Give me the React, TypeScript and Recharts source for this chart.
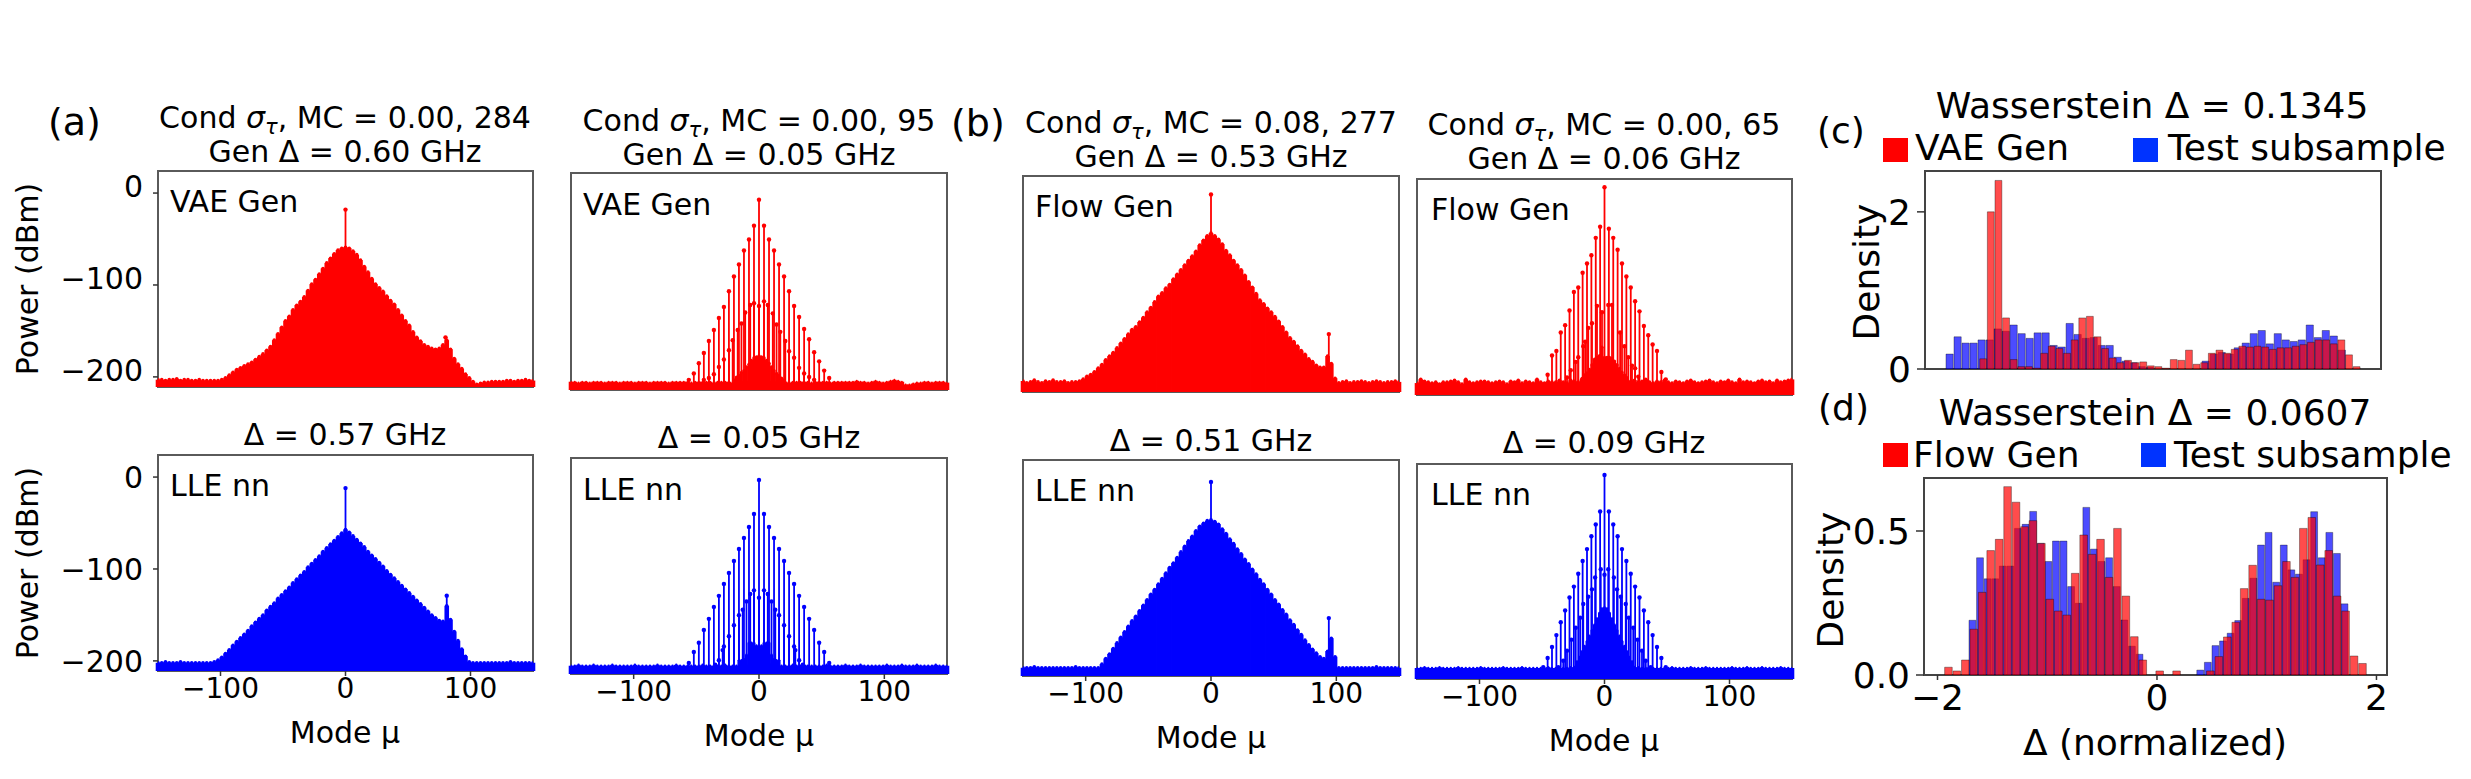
import React from "react";
import {
  Bar,
  ComposedChart,
  ErrorBar,
  ReferenceArea,
  Scatter,
  ScatterChart,
  XAxis,
  YAxis,
} from "recharts";

const FONT = "DejaVu Sans";
const RED = "#ff0000";
const BLUE = "#0000ff";
const BOTTOM = -211;

// every third mode, -150..150
const fillModes = Array.from({ length: 101 }, (_, i) => -150 + 3 * i);

const a1Fill = [
  -203, -203, -204, -203, -203, -202, -204, -203, -203, -204,
  -204, -203, -204, -204, -204, -204, -204, -203, -201, -198,
  -195, -192, -190, -188, -186, -184, -181, -178, -175, -171,
  -167, -160, -153, -146, -139, -134, -127, -122, -118, -113,
  -106, -99, -94, -88, -82, -76, -71, -66, -62, -60,
  -59, -60, -63, -67, -73, -80, -86, -93, -99, -103,
  -107, -112, -117, -121, -127, -133, -139, -144, -151, -157,
  -161, -165, -167, -169, -170, -169, -165, -160, -170, -180,
  -186, -191, -197, -201, -205, -208, -207, -206, -206, -205,
  -205, -205, -205, -204, -204, -205, -204, -204, -203, -204,
  -204,
];
const a1Spikes = { modes: [0, 80], power: [-18, -157] };

const b1Fill = [
  -199, -201, -200, -198, -200, -201, -199, -200, -198, -200,
  -200, -199, -201, -200, -200, -199, -197, -194, -192, -189,
  -185, -181, -176, -172, -168, -163, -158, -153, -148, -143,
  -140, -135, -130, -124, -119, -113, -107, -103, -98, -94,
  -88, -83, -78, -73, -68, -63, -58, -51, -46, -41,
  -38, -41, -45, -50, -57, -62, -68, -73, -78, -84,
  -91, -97, -104, -111, -115, -120, -124, -129, -134, -140,
  -146, -152, -156, -161, -166, -170, -175, -178, -182, -184,
  -184, -172, -180, -196, -201, -200, -199, -201, -200, -200,
  -199, -200, -201, -200, -199, -200, -201, -200, -200, -199,
  -200,
];
const b1Spikes = { modes: [0, 94], power: [4, -148] };

const a3Fill = [
  -202, -202, -201, -202, -202, -202, -201, -202, -202, -202,
  -202, -202, -202, -202, -202, -201, -199, -196, -192, -188,
  -183, -179, -175, -171, -167, -162, -158, -154, -150, -145,
  -141, -137, -132, -128, -124, -120, -115, -111, -107, -103,
  -98, -94, -90, -86, -81, -77, -73, -69, -65, -61,
  -57, -60, -64, -68, -72, -76, -81, -85, -89, -93,
  -97, -102, -106, -110, -114, -118, -122, -126, -130, -134,
  -138, -142, -146, -150, -153, -156, -157, -140, -155, -168,
  -178, -187, -195, -201, -202, -202, -202, -202, -202, -202,
  -202, -202, -202, -202, -201, -202, -202, -202, -202, -202,
  -202,
];
const a3Spikes = { modes: [0, 81], power: [-12, -129] };

const b3Fill = [
  -202, -202, -202, -201, -202, -202, -202, -202, -202, -202,
  -202, -202, -202, -202, -201, -202, -202, -202, -202, -202,
  -202, -198, -192, -187, -181, -175, -169, -163, -157, -151,
  -146, -140, -134, -128, -122, -117, -111, -105, -99, -93,
  -88, -82, -76, -70, -64, -59, -53, -48, -45, -42,
  -41, -43, -46, -51, -56, -62, -67, -73, -78, -84,
  -89, -95, -100, -106, -111, -117, -122, -128, -133, -139,
  -144, -150, -155, -161, -166, -172, -177, -182, -186, -190,
  -192, -184, -170, -190, -202, -202, -202, -202, -202, -202,
  -202, -202, -202, -202, -201, -202, -202, -202, -202, -202,
  -202,
];
const b3Spikes = { modes: [0, 94], power: [0, -148] };

const a2Floor = [
  -202, -202, -203, -202, -202, -203, -202, -202, -202, -203,
  -202, -202, -202, -203, -202, -202, -202, -203, -202, -202,
  -202, -203, -202, -202, -202, -202, -203, -202, -202, -202,
  -202, -202, -203, -202, -202, -202, -202, -202, -203, -202,
  -202, -202, -202, -203, -202, -202, -202, -202, -202, -203,
  -202, -202, -203, -202, -202, -202, -202, -202, -203, -202,
  -202, -202, -202, -202, -203, -202, -202, -202, -202, -203,
  -202, -202, -202, -202, -202, -202, -201, -202, -202, -203,
  -202, -201, -202, -203, -202, -201, -200, -201, -202, -205,
  -205, -204, -203, -203, -202, -202, -203, -202, -202, -202,
  -203,
];
const a4Floor = [
  -202, -202, -201, -202, -202, -202, -201, -202, -202, -202,
  -202, -201, -202, -202, -202, -202, -202, -201, -202, -202,
  -202, -202, -202, -201, -202, -202, -202, -202, -201, -202,
  -202, -202, -202, -202, -202, -201, -202, -202, -202, -202,
  -202, -201, -202, -202, -202, -202, -202, -202, -201, -202,
  -202, -202, -202, -201, -202, -202, -202, -202, -202, -201,
  -202, -202, -201, -202, -202, -202, -202, -202, -201, -202,
  -202, -202, -202, -201, -202, -202, -202, -201, -202, -202,
  -202, -202, -202, -202, -201, -202, -202, -202, -201, -202,
  -202, -202, -201, -202, -202, -202, -202, -201, -202, -202,
  -202,
];
const b2Floor = [
  -198, -194, -196, -197, -198, -197, -199, -197, -197, -196,
  -195, -197, -199, -194, -197, -198, -197, -196, -196, -197,
  -198, -197, -196, -197, -199, -196, -197, -195, -198, -196,
  -197, -198, -194, -197, -198, -196, -197, -197, -195, -197,
  -198, -195, -196, -197, -194, -197, -196, -197, -196, -195,
  -196, -196, -197, -196, -195, -197, -198, -196, -195, -197,
  -196, -194, -197, -198, -196, -197, -195, -197, -198, -196,
  -197, -198, -196, -195, -197, -198, -197, -196, -195, -197,
  -198, -196, -197, -195, -197, -198, -194, -197, -196, -197,
  -198, -196, -195, -197, -196, -198, -195, -197, -196, -195,
  -194,
];
const b4Floor = [
  -199, -199, -198, -199, -199, -199, -198, -199, -199, -199,
  -199, -198, -199, -199, -199, -199, -199, -198, -199, -199,
  -199, -199, -199, -198, -199, -199, -199, -199, -198, -199,
  -199, -199, -199, -199, -199, -198, -199, -199, -199, -199,
  -199, -198, -199, -199, -199, -199, -199, -199, -198, -199,
  -199, -199, -199, -198, -199, -199, -199, -199, -199, -198,
  -199, -199, -198, -199, -199, -199, -199, -199, -198, -199,
  -199, -199, -199, -198, -199, -199, -199, -198, -199, -199,
  -199, -199, -199, -199, -198, -199, -199, -199, -198, -199,
  -199, -199, -198, -199, -199, -199, -199, -198, -199, -199,
  -199,
];

const a2TallModes = [-56, -52, -48, -44, -40, -36, -32, -28, -24, -20, -16, -12, -8, -4, 0, 4, 8, 12, 16, 20, 24, 28, 32, 36, 40, 44, 48, 52, 56];
const a2TallPower = [-200, -193, -182, -171, -158, -146, -133, -121, -104, -88, -75, -60, -48, -33, -5, -33, -48, -60, -75, -88, -104, -120, -132, -145, -156, -170, -180, -190, -198];
const a2MidModes = [-44, -40, -36, -32, -28, -24, -21, -17, -14, -11, -7, -4, 0, 4, 7, 11, 14, 17, 21, 24, 28, 32, 36, 40, 44];
const a2MidPower = [-200, -198, -194, -186, -178, -168, -157, -146, -139, -127, -119, -117, -120, -115, -119, -128, -140, -148, -158, -169, -176, -187, -193, -197, -200];
const a2LowModes = [-20, -18, -16, -14, -12, -10, -8, -6, -4, -2, 0, 2, 4, 6, 8, 10, 12, 14, 16, 18, 20];
const a2LowPower = [-200, -197, -195, -192, -190, -186, -183, -179, -176, -175, -174, -175, -176, -179, -182, -186, -190, -193, -195, -198, -200];

const a4TallModes = a2TallModes;
const a4TallPower = [-199, -187, -177, -163, -151, -138, -126, -113, -101, -88, -75, -63, -51, -37, 0, -37, -51, -63, -75, -88, -101, -113, -126, -138, -151, -163, -177, -187, -199];
const a4MidModes = [-35, -32, -29, -28, -24, -20, -16, -13, -10, -7, -4, 0, 4, 7, 10, 13, 16, 20, 24, 28, 29, 32, 35];
const a4MidPower = [-201, -196, -185, -181, -170, -158, -147, -141, -132, -124, -120, -128, -120, -124, -132, -141, -147, -158, -170, -181, -185, -196, -201];
const a4LowModes = [-16, -14, -12, -10, -8, -6, -4, -2, 0, 2, 4, 6, 8, 10, 12, 14, 16];
const a4LowPower = [-196, -196, -195, -190, -177, -177, -177, -180, -181, -180, -177, -177, -177, -190, -195, -196, -196];

const b2TallModes = [-45.5, -42, -38.5, -35, -31.5, -28, -24.5, -21, -17.5, -14, -10.5, -7, -3.5, 0, 3.5, 7, 10.5, 14, 17.5, 21, 24.5, 28, 31.5, 35, 38.5, 42, 45.5, 49];
const b2TallPower = [-189, -168, -163, -143, -135, -119, -99, -94, -78, -68, -59, -40, -28, 15, -30, -40, -53, -68, -82, -94, -109, -120, -136, -146, -156, -163, -186, -194];
const b2MidModes = [-30, -27, -23, -21, -17, -15.5, -13, -10, -6, -2, 3, 6, 12.5, 16, 19, 22, 24.5, 27];
const b2MidPower = [-192, -184, -175, -170, -158, -153, -138, -133, -114, -121, -113, -113, -143, -158, -170, -179, -182, -191];
const b2LowModes = [-18, -16, -14, -12, -10, -8, -6, -4, -2, 0, 2, 4, 6, 8, 10, 12, 14, 16, 18];
const b2LowPower = [-193, -189, -187, -183, -178, -172, -170, -168, -159, -170, -170, -170, -171, -174, -178, -182, -186, -189, -192];

const b4TallModes = [-49, -45.5, -42, -38.5, -35, -31.5, -28, -24.5, -21, -17.5, -14, -10.5, -7, -3.5, 0, 3.5, 7, 10.5, 14, 17.5, 21, 24.5, 28, 31.5, 35, 38.5, 42, 45.5, 49];
const b4TallPower = [-198, -188, -176, -163, -149, -136, -122, -110, -96, -82, -69, -55, -42, -28, 12, -28, -42, -55, -69, -82, -96, -110, -122, -136, -149, -163, -176, -188, -198];
const b4MidModes = [-37, -33, -30, -26.5, -23, -19.5, -17, -13, -10, -7.5, -3, 0, 3, 7.5, 10, 13, 17, 19.5, 23, 26.5, 30, 33, 37];
const b4MidPower = [-198, -191, -180, -168, -155, -144, -129, -121, -113, -100, -91, -97, -91, -100, -113, -121, -129, -144, -155, -168, -180, -191, -198];
const b4LowModes = [-24, -22, -20, -18, -16, -14, -12, -10, -8, -6, -4, -2, 0, 2, 4, 6, 8, 10, 12, 14, 16, 18, 20, 22, 24];
const b4LowPower = [-198, -192, -187, -181, -175, -170, -164, -158, -152, -145, -139, -134, -133, -134, -139, -145, -152, -158, -164, -170, -175, -181, -187, -192, -198];

// histogram (c)
const cRedStart = -1.425;
const cRedWidth = 0.0657;
const cRed = [0.13, 2.0, 2.4, 0.65, 0.12, 0.03, 0.03, 0.01, 0.2, 0.29, 0.26, 0.2, 0.37, 0.65, 0.67, 0.41, 0.26, 0.14, 0.08, 0.11, 0.08, 0.09, 0.04, 0.03, 0.01, 0.12, 0.11, 0.24, 0.06, 0.08, 0.2, 0.24, 0.2, 0.25, 0.29, 0.28, 0.29, 0.28, 0.25, 0.27, 0.27, 0.29, 0.31, 0.34, 0.37, 0.37, 0.32, 0.37, 0.18, 0.03];
const cBlueStart = -1.716;
const cBlueWidth = 0.069;
const cBlue = [0.19, 0.41, 0.33, 0.33, 0.37, 0.37, 0.51, 0.48, 0.56, 0.45, 0.39, 0.46, 0.46, 0.3, 0.28, 0.58, 0.44, 0.39, 0.4, 0.3, 0.3, 0.15, 0.1, 0.08, 0.03, 0.02, 0, 0, 0, 0, 0, 0, 0.1, 0.19, 0.21, 0.19, 0.27, 0.33, 0.45, 0.49, 0.32, 0.45, 0.37, 0.35, 0.37, 0.56, 0.4, 0.49, 0.42, 0.24];

// histogram (d)
const dRedStart = -1.935;
const dRedWidth = 0.077;
const dRed = [0.027, 0.014, 0.052, 0.159, 0.287, 0.432, 0.471, 0.654, 0.6, 0.515, 0.536, 0.457, 0.263, 0.222, 0.208, 0.353, 0.486, 0.419, 0.471, 0.339, 0.509, 0.274, 0.133, 0.052, 0, 0.014, 0, 0.014, 0, 0, 0, 0.014, 0.064, 0.132, 0.183, 0.3, 0.381, 0.263, 0.26, 0.31, 0.394, 0.339, 0.509, 0.547, 0.382, 0.432, 0.274, 0.222, 0.066, 0.04];
const dBlueStart = -1.713;
const dBlueWidth = 0.0692;
const dBlue = [0.19, 0.407, 0.334, 0.334, 0.378, 0.378, 0.509, 0.523, 0.568, 0.457, 0.394, 0.465, 0.465, 0.307, 0.249, 0.582, 0.437, 0.394, 0.407, 0.307, 0.191, 0.1, 0.072, 0, 0, 0, 0, 0, 0, 0, 0.017, 0.044, 0.102, 0.118, 0.145, 0.189, 0.266, 0.336, 0.451, 0.495, 0.322, 0.451, 0.365, 0.35, 0.4, 0.567, 0.407, 0.495, 0.422, 0.247];

const zip = (modes: number[], power: number[]) => modes.map((m, i) => ({ m, p: power[i] }));

interface Layer {
  modes: number[];
  power: number[];
  width: number;
  r: number;
}

interface StemProps {
  left: number;
  top: number;
  width: number;
  height: number;
  color: string;
  layers: Layer[];
  showX?: boolean;
  yTicks?: "labels" | "marks" | "none";
  labelDy?: number;
}

function StemPanel({ left, top, width, height, color, layers, showX, yTicks = "none", labelDy = 0 }: StemProps) {
  const mL = 110;
  const mB = 50;
  const pad = 4;
  return (
    <div style={{ position: "absolute", left: left - mL, top: top - pad }}>
      <ScatterChart
        width={mL + width + pad}
        height={height + mB + pad}
        margin={{ top: pad, right: pad, bottom: 0, left: 0 }}
      >
        <XAxis
          type="number"
          dataKey="m"
          domain={[-150, 150]}
          ticks={showX ? [-100, 0, 100] : []}
          allowDataOverflow
          height={mB}
          axisLine={false}
          tickLine={showX ? { stroke: "#333", strokeWidth: 1.5 } : false}
          tickSize={5}
          tickMargin={2}
          tick={showX ? { fontSize: 28, fontFamily: FONT, fill: "#000" } : false}
          tickFormatter={(v: number) => String(v).replace("-", "\u2212")}
        />
        <YAxis
          type="number"
          dataKey="p"
          domain={[BOTTOM, 24]}
          ticks={yTicks === "none" ? [] : [0, -100, -200]}
          allowDataOverflow
          width={mL}
          axisLine={false}
          tickLine={yTicks === "none" ? false : { stroke: "#333", strokeWidth: 1.5 }}
          tickSize={5}
          tickMargin={10}
          tick={yTicks === "labels" ? { fontSize: 30, fontFamily: FONT, fill: "#000", dy: labelDy } : false}
          tickFormatter={(v: number) => String(v).replace("-", "\u2212")}
        />
        {layers.map((l, i) => (
          <Scatter
            key={i}
            data={zip(l.modes, l.power)}
            fill={color}
            isAnimationActive={false}
            shape={(s: any) => <circle cx={s.cx} cy={s.cy} r={l.r} fill={color} />}
          >
            <ErrorBar
              dataKey={(d: any) => [d.p - BOTTOM, 0]}
              direction="y"
              width={0}
              stroke={color}
              strokeWidth={l.width}
              isAnimationActive={false}
            />
          </Scatter>
        ))}
        <ReferenceArea x1={-150} x2={150} y1={BOTTOM} y2={24} fill="none" stroke="#5a5a5a" strokeWidth={2} ifOverflow="visible" />
      </ScatterChart>
    </div>
  );
}

interface HistProps {
  left: number;
  top: number;
  width: number;
  height: number;
  xDomain: [number, number];
  xTicks: number[];
  showX: boolean;
  yMax: number;
  yTicks: number[];
  yFormat: (v: number) => string;
  red: number[];
  redStart: number;
  redWidth: number;
  blue: number[];
  blueStart: number;
  blueWidth: number;
}

function HistPanel(props: HistProps) {
  const { left, top, width, height, xDomain, xTicks, showX, yMax, yTicks, yFormat } = props;
  const mL = 100;
  const mB = 60;
  const pad = 4;
  const span = xDomain[1] - xDomain[0];
  const rows = props.red.map((r, i) => ({
    xr: props.redStart + (i + 0.5) * props.redWidth,
    r,
    xb: props.blueStart + (i + 0.5) * props.blueWidth,
    b: props.blue[i],
  }));
  return (
    <div style={{ position: "absolute", left: left - mL, top: top - pad }}>
      <ComposedChart
        width={mL + width + pad}
        height={height + mB + pad}
        data={rows}
        margin={{ top: pad, right: pad, bottom: 0, left: 0 }}
      >
        <XAxis xAxisId="blue" type="number" dataKey="xb" domain={xDomain} allowDataOverflow hide height={0} />
        <XAxis
          xAxisId="red"
          type="number"
          dataKey="xr"
          domain={xDomain}
          ticks={xTicks}
          allowDataOverflow
          height={mB}
          axisLine={false}
          tickLine={{ stroke: "#333", strokeWidth: 1.5 }}
          tickSize={5}
          tickMargin={4}
          tick={showX ? { fontSize: 36, fontFamily: FONT, fill: "#000" } : false}
          tickFormatter={(v: number) => String(v).replace("-", "\u2212")}
        />
        <YAxis
          type="number"
          domain={[0, yMax]}
          ticks={yTicks}
          allowDataOverflow
          width={mL}
          axisLine={false}
          tickLine={{ stroke: "#333", strokeWidth: 1.5 }}
          tickSize={8}
          tickMargin={6}
          tick={{ fontSize: 36, fontFamily: FONT, fill: "#000" }}
          tickFormatter={yFormat}
        />
        <Bar
          xAxisId="blue"
          dataKey="b"
          fill="#0000ff"
          fillOpacity={0.7}
          stroke="#000"
          strokeOpacity={0.35}
          barSize={(props.blueWidth / span) * width}
          isAnimationActive={false}
        />
        <Bar
          xAxisId="red"
          dataKey="r"
          fill="#ff0000"
          fillOpacity={0.7}
          stroke="#000"
          strokeOpacity={0.35}
          barSize={(props.redWidth / span) * width}
          isAnimationActive={false}
        />
        <ReferenceArea
          xAxisId="red"
          x1={xDomain[0]}
          x2={xDomain[1]}
          y1={0}
          y2={yMax}
          fill="none"
          stroke="#444"
          strokeWidth={2}
          ifOverflow="visible"
        />
      </ComposedChart>
    </div>
  );
}

const fill = (power: number[]): Layer => ({ modes: fillModes, power, width: 4.6, r: 1.8 });
const stem = (modes: number[], power: number[], width = 1.8, r = 2.2): Layer => ({ modes, power, width, r });

function Title({ x, y, mc, count, gen }: { x: number; y: number; mc: string; count: string; gen: string }) {
  return (
    <g textAnchor="middle" fontSize={30} fontFamily={FONT} fill="#000">
      <text x={x} y={y}>
        Cond <tspan fontStyle="italic">σ</tspan>
        <tspan fontStyle="italic" fontSize={21} dy={6}>τ</tspan>
        <tspan dy={-6}>, MC = {mc}, {count}</tspan>
      </text>
      <text x={x} y={y + 34}>Gen Δ = {gen} GHz</text>
    </g>
  );
}

function T({ x, y, size = 30, anchor = "start", rotate, children }: any) {
  return (
    <text
      x={x}
      y={y}
      fontSize={size}
      fontFamily={FONT}
      fill="#000"
      textAnchor={anchor}
      transform={rotate ? `rotate(${rotate} ${x} ${y})` : undefined}
    >
      {children}
    </text>
  );
}

function Swatch({ x, y, color }: { x: number; y: number; color: string }) {
  return <rect x={x} y={y} width={25} height={24} fill={color} />;
}

export default function App() {
  return (
    <div style={{ position: "absolute", left: 0, top: 0, width: 2471, height: 779, background: "#fff", overflow: "hidden" }}>
      <StemPanel left={158} top={171} width={375} height={216} color={RED} yTicks="labels" labelDy={-7}
        layers={[fill(a1Fill), stem(a1Spikes.modes, a1Spikes.power)]} />
      <StemPanel left={571} top={173} width={376} height={217} color={RED}
        layers={[
          { modes: fillModes, power: a2Floor, width: 4.6, r: 1 },
          stem(a2TallModes, a2TallPower),
          stem(a2MidModes, a2MidPower),
          stem(a2LowModes, a2LowPower, 3, 1.6),
        ]} />
      <StemPanel left={1023} top={176} width={376} height={216} color={RED} yTicks="marks"
        layers={[fill(b1Fill), stem(b1Spikes.modes, b1Spikes.power)]} />
      <StemPanel left={1417} top={179} width={375} height={216} color={RED} yTicks="marks"
        layers={[
          fill(b2Floor),
          stem(b2TallModes, b2TallPower),
          stem(b2MidModes, b2MidPower),
          stem(b2LowModes, b2LowPower, 3, 1.6),
        ]} />

      <StemPanel left={158} top={455} width={375} height={216} color={BLUE} yTicks="labels" showX
        layers={[fill(a3Fill), stem(a3Spikes.modes, a3Spikes.power)]} />
      <StemPanel left={571} top={458} width={376} height={216} color={BLUE} showX
        layers={[
          { modes: fillModes, power: a4Floor, width: 4.6, r: 1.2 },
          stem(a4TallModes, a4TallPower),
          stem(a4MidModes, a4MidPower),
          stem(a4LowModes, a4LowPower, 3, 1.2),
        ]} />
      <StemPanel left={1023} top={460} width={376} height={216} color={BLUE} yTicks="marks" showX
        layers={[fill(b3Fill), stem(b3Spikes.modes, b3Spikes.power)]} />
      <StemPanel left={1417} top={464} width={375} height={215} color={BLUE} yTicks="marks" showX
        layers={[
          { modes: fillModes, power: b4Floor, width: 4.6, r: 1.2 },
          stem(b4TallModes, b4TallPower),
          stem(b4MidModes, b4MidPower),
          stem(b4LowModes, b4LowPower, 3, 1.4),
        ]} />

      <HistPanel left={1925} top={171} width={456} height={198} xDomain={[-1.897, 2.034]} xTicks={[-1, 0, 1, 2]} showX={false}
        yMax={2.52} yTicks={[0, 2]} yFormat={(v) => String(v)}
        red={cRed} redStart={cRedStart} redWidth={cRedWidth} blue={cBlue} blueStart={cBlueStart} blueWidth={cBlueWidth} />
      <HistPanel left={1924} top={478} width={463} height={197} xDomain={[-2.123, 2.096]} xTicks={[-2, 0, 2]} showX
        yMax={0.684} yTicks={[0, 0.5]} yFormat={(v) => v.toFixed(1)}
        red={dRed} redStart={dRedStart} redWidth={dRedWidth} blue={dBlue} blueStart={dBlueStart} blueWidth={dBlueWidth} />

      <svg width={2471} height={779} style={{ position: "absolute", left: 0, top: 0, pointerEvents: "none" }}>
        <T x={48} y={135} size={38}>(a)</T>
        <T x={951} y={136} size={38}>(b)</T>
        <T x={1817} y={143} size={36}>(c)</T>
        <T x={1818} y={420} size={36}>(d)</T>

        <Title x={345} y={128} mc="0.00" count="284" gen="0.60" />
        <Title x={759} y={131} mc="0.00" count="95" gen="0.05" />
        <Title x={1211} y={133} mc="0.08" count="277" gen="0.53" />
        <Title x={1604} y={135} mc="0.00" count="65" gen="0.06" />

        <T x={345} y={445} anchor="middle">Δ = 0.57 GHz</T>
        <T x={759} y={448} anchor="middle">Δ = 0.05 GHz</T>
        <T x={1211} y={451} anchor="middle">Δ = 0.51 GHz</T>
        <T x={1604} y={453} anchor="middle">Δ = 0.09 GHz</T>

        <T x={170} y={212}>VAE Gen</T>
        <T x={583} y={215}>VAE Gen</T>
        <T x={1035} y={217}>Flow Gen</T>
        <T x={1431} y={220}>Flow Gen</T>
        <T x={170} y={496}>LLE nn</T>
        <T x={583} y={500}>LLE nn</T>
        <T x={1035} y={501}>LLE nn</T>
        <T x={1431} y={505}>LLE nn</T>

        <T x={38} y={279} anchor="middle" rotate={-90}>Power (dBm)</T>
        <T x={38} y={563} anchor="middle" rotate={-90}>Power (dBm)</T>

        <T x={345} y={743} anchor="middle">Mode μ</T>
        <T x={759} y={746} anchor="middle">Mode μ</T>
        <T x={1211} y={748} anchor="middle">Mode μ</T>
        <T x={1604} y={751} anchor="middle">Mode μ</T>

        <T x={2152} y={118} size={36} anchor="middle">Wasserstein Δ = 0.1345</T>
        <Swatch x={1883} y={138} color="#ff0000" />
        <T x={1915} y={160} size={36}>VAE Gen</T>
        <Swatch x={2133} y={138} color="#0033ff" />
        <T x={2168} y={160} size={36}>Test subsample</T>
        <T x={1879} y={272} size={36} anchor="middle" rotate={-90}>Density</T>

        <T x={2155} y={425} size={36} anchor="middle">Wasserstein Δ = 0.0607</T>
        <Swatch x={1883} y={443} color="#ff0000" />
        <T x={1913} y={467} size={36}>Flow Gen</T>
        <Swatch x={2141} y={443} color="#0033ff" />
        <T x={2174} y={467} size={36}>Test subsample</T>
        <T x={1843} y={580} size={36} anchor="middle" rotate={-90}>Density</T>
        <T x={2155} y={755} size={36} anchor="middle">Δ (normalized)</T>
      </svg>
    </div>
  );
}
